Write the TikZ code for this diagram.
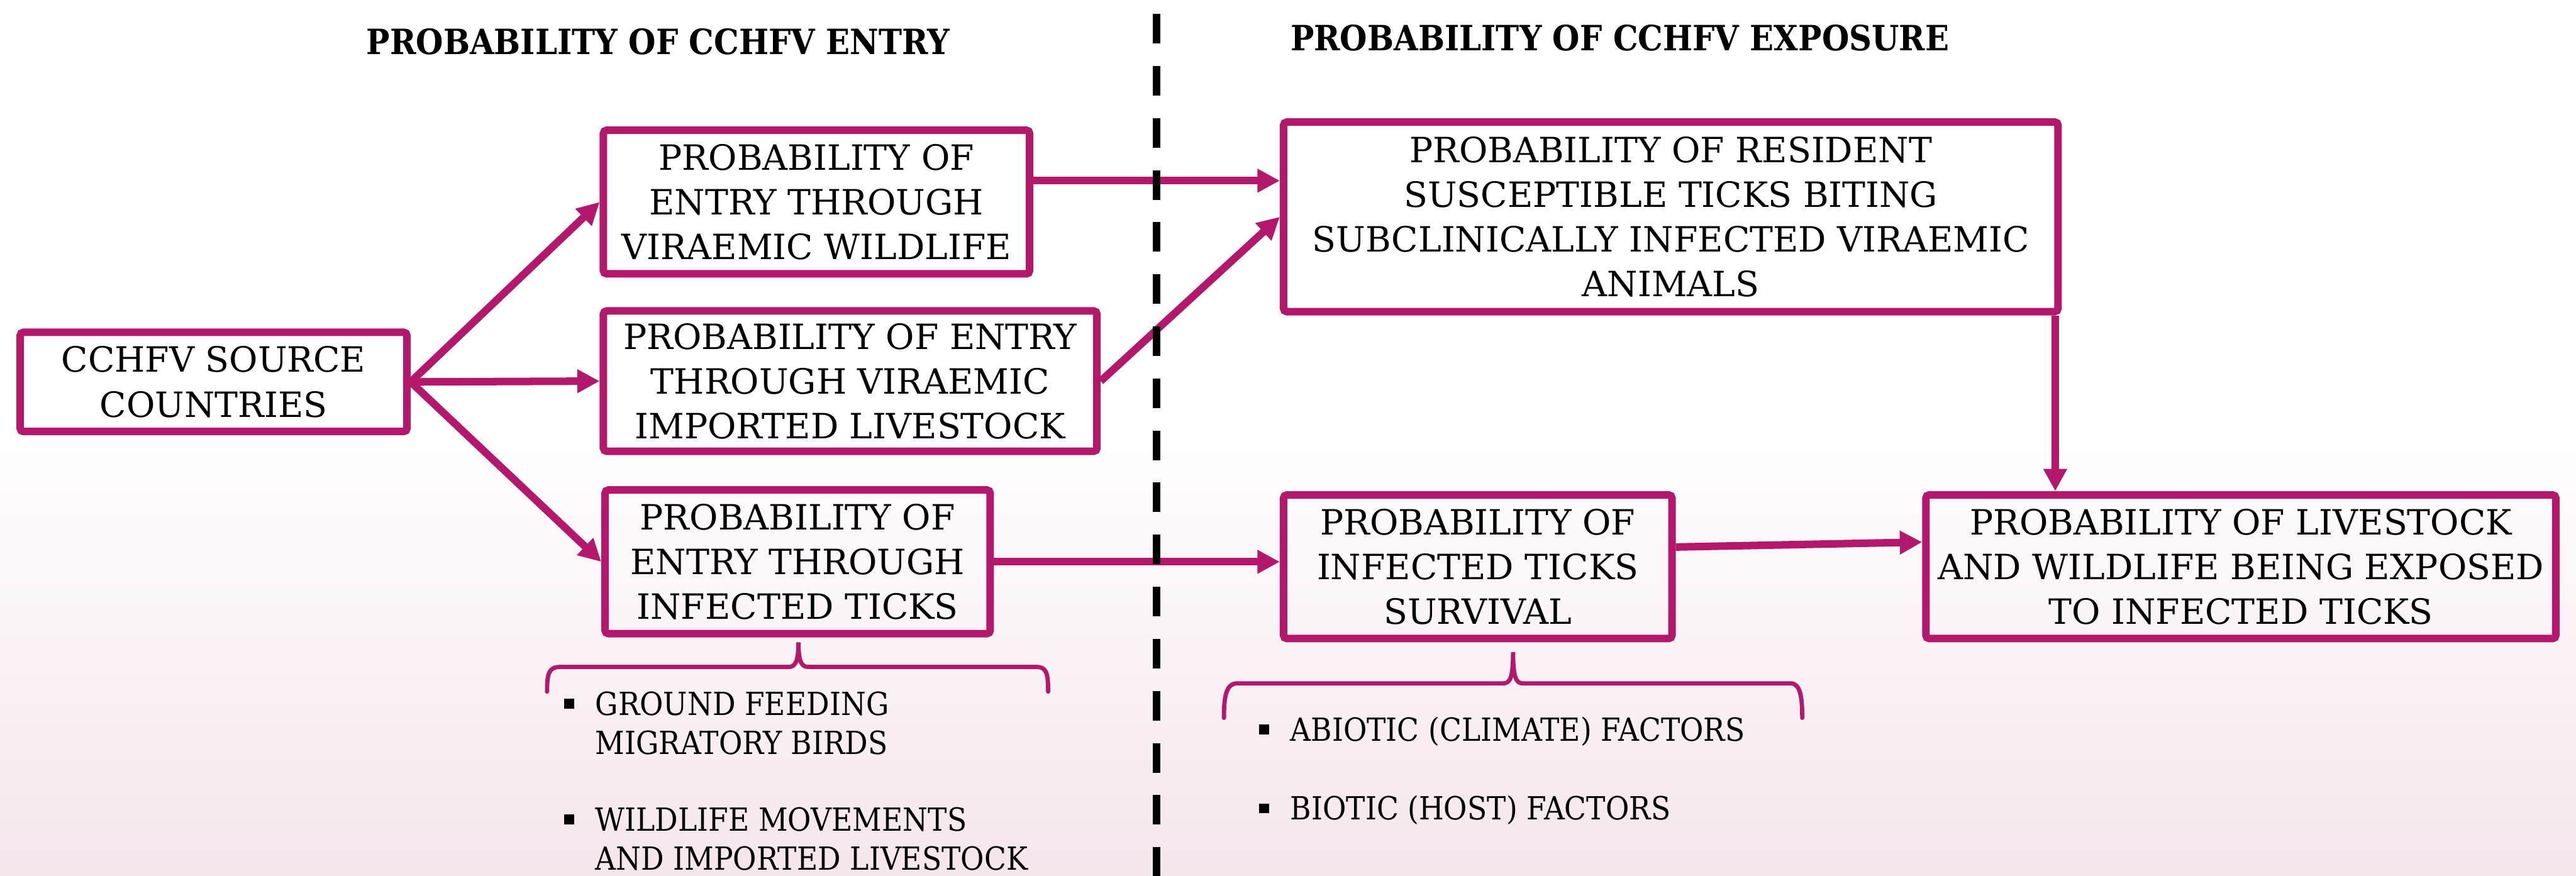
\documentclass[tikz,border=0pt]{standalone}
\usepackage{fontspec}
\setmainfont{DejaVu Serif}
\newfontfamily\narrowserif{DejaVu Serif}[FakeStretch=0.9]
\usepackage{xcolor}
\usetikzlibrary{arrows.meta}

\definecolor{cchfvpink}{RGB}{180,24,108}
\definecolor{bgblush}{RGB}{245,230,236}

\newcommand{\listbul}{\llap{\rule[2pt]{3pt}{3pt}\hspace{6.5pt}}}

\tikzset{
  probbox/.style={draw=cchfvpink, line width=2.3pt, rounded corners=1pt, align=center, inner sep=1pt, font=\fontsize{10.6}{13.6}\selectfont},
  flowarrow/.style={draw=cchfvpink, line width=2.3pt, -{Triangle[length=6.8pt,width=6.8pt]}},
  bracket/.style={draw=cchfvpink, line width=1.3pt, line cap=round},
  headtext/.style={font=\narrowserif\fontsize{10.6}{13.6}\selectfont\bfseries, inner sep=0pt, anchor=base},
  listtext/.style={font=\narrowserif\fontsize{9.7}{12}\selectfont, align=left, inner sep=0pt, anchor=north west},
}

\begin{document}
\begin{tikzpicture}[x=0.5pt,y=0.5pt,yscale=-1,xscale=1]
%Background
\fill [white] (0,0) rectangle (1568,262) ;
\shade [top color=white, bottom color=bgblush] (0,262) rectangle (1568,533) ;
\useasboundingbox (0,0) rectangle (1568,533) ;

% Text Node
\node [headtext] (hdrentry) at (400.5,33) {PROBABILITY OF CCHFV ENTRY};
% Text Node
\node [headtext] (hdrexposure) at (986,31) {PROBABILITY OF CCHFV EXPOSURE};

%Boxes
\node [probbox, minimum width=117.7pt, minimum height=30.2pt] (src) at (130,232.5) {CCHFV SOURCE\\COUNTRIES};
\node [probbox, minimum width=129.7pt, minimum height=43.7pt] (wild) at (497,123) {PROBABILITY OF\\ENTRY THROUGH\\VIRAEMIC WILDLIFE};
\node [probbox, minimum width=150.2pt, minimum height=42.7pt] (live) at (517.5,232) {PROBABILITY OF ENTRY\\THROUGH VIRAEMIC\\IMPORTED LIVESTOCK};
\node [probbox, minimum width=117.2pt, minimum height=43.7pt] (ticks) at (485.5,342) {PROBABILITY OF\\ENTRY THROUGH\\INFECTED TICKS};
\node [probbox, minimum width=235.7pt, minimum height=57.7pt] (res) at (1017,132) {PROBABILITY OF RESIDENT\\SUSCEPTIBLE TICKS BITING\\SUBCLINICALLY INFECTED VIRAEMIC\\ANIMALS};
\node [probbox, minimum width=118.2pt, minimum height=43.7pt] (surv) at (899.5,345) {PROBABILITY OF\\INFECTED TICKS\\SURVIVAL};
\node [probbox, minimum width=191.7pt, minimum height=43.7pt] (expo) at (1364,345) {PROBABILITY OF LIVESTOCK\\AND WILDLIFE BEING EXPOSED\\TO INFECTED TICKS};

%Straight Lines
\draw [flowarrow] (src.east) -- (wild.west) ;
\draw [flowarrow] (src.east) -- (live.west) ;
\draw [flowarrow] (src.east) -- (ticks.west) ;
\draw [flowarrow] ([yshift=-6.5]wild.east) -- ([yshift=-6.5]wild.east -| res.west) ;
\draw [flowarrow] (live.east) -- (res.west) ;
\draw [flowarrow] (ticks.east) -- (ticks.east -| surv.west) ;
\draw [flowarrow] ([yshift=-6]surv.east) -- ([yshift=-7.5]expo.west) ;
\draw [flowarrow] ([xshift=-2pt]res.south east) -- ([xshift=-2pt]res.south east |- expo.north) ;

%Dashed divider
\draw [line width=2.15pt, dash pattern={on 9pt off 6.85pt}] (704,8.5) -- (704,540) ;

%Curve Lines
\draw [bracket] (333,421) .. controls (333,410) and (334,406) .. (341,406) -- (480,406) .. controls (484,406) and (486,403) .. (486,391) .. controls (486,403) and (488,406) .. (492,406) -- (631,406) .. controls (637,406) and (638,410) .. (638,421) ;
\draw [bracket] (745,437) .. controls (745,425) and (746,416) .. (753,416) -- (915,416) .. controls (919,416) and (921,413) .. (921,397) .. controls (921,413) and (923,416) .. (927,416) -- (1090,416) .. controls (1096,416) and (1097,425) .. (1097,437) ;

% Text Node
\node [listtext] (birds) at (362,420.5) {\listbul GROUND FEEDING\\MIGRATORY BIRDS};
% Text Node
\node [listtext] (moves) at (362,491) {\listbul WILDLIFE MOVEMENTS\\AND IMPORTED LIVESTOCK};
% Text Node
\node [listtext] (abiotic) at (785,436) {\listbul ABIOTIC (CLIMATE) FACTORS};
% Text Node
\node [listtext] (biotic) at (785,484) {\listbul BIOTIC (HOST) FACTORS};
\end{tikzpicture}
\end{document}
